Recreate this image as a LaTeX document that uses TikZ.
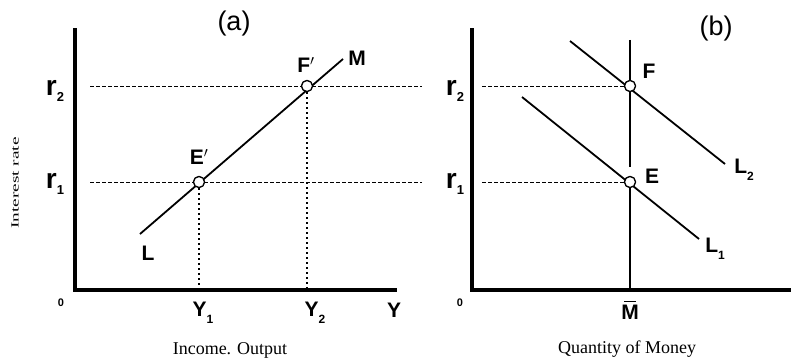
\documentclass[tikz,border=0pt]{standalone}
\usepackage{fontspec}
\setmainfont{Liberation Serif}
\newfontfamily\handfont{Liberation Sans}
\newcommand\sublab[2]{#1\raisebox{-0.6ex}{\fontsize{12}{12}\selectfont #2}}
\newcommand\rlab[1]{{\fontsize{28}{28}\selectfont r}\raisebox{-0.5ex}{\fontsize{13}{13}\selectfont #1}}
\begin{document}
\begin{tikzpicture}[x=1pt,y=-1pt,
  axis/.style={line width=3.6pt,line cap=rect},
  curve/.style={line width=1.8pt},
  guide/.style={line width=1pt,dash pattern=on 3.5pt off 2.5pt},
  vguide/.style={line width=1.2pt,dash pattern=on 2pt off 3pt},
  vline/.style={line width=1.4pt},
  pt/.style={circle,draw,line width=1.2pt,fill=white,inner sep=0pt,minimum size=11pt},
  lab/.style={font=\handfont\bfseries\fontsize{21}{21}\selectfont,inner sep=0pt},
  panel/.style={font=\handfont\fontsize{27}{27}\selectfont,inner sep=0pt},
  captext/.style={font=\fontsize{18}{18}\selectfont,inner sep=0pt},
]
\useasboundingbox (0,0) rectangle (791,361);
% ---------- panel (a)
\coordinate (aTop) at (75,30);
\coordinate (aO) at (75,290);
\coordinate (aEnd) at (395,290);
\draw[axis] (aTop) -- (aO) -- (aEnd);
\coordinate (Lstart) at (140,234);
\coordinate (Mend) at (343,59);
\draw[curve] (Lstart) -- (Mend);
\coordinate (r2a) at (90,86);
\coordinate (r2aEnd) at (422,86);
\coordinate (r1a) at (90,182);
\coordinate (r1aEnd) at (422,182);
\draw[guide] (r2a) -- (r2aEnd);
\draw[guide] (r1a) -- (r1aEnd);
\coordinate (y1a) at (199,290);
\coordinate (y2a) at (307,290);
\node[pt] (Ep) at (199,182) {};
\node[pt] (Fp) at (307,86) {};
\draw[vguide] (Ep) -- (y1a);
\draw[vguide] (Fp) -- (y2a);
\node[pt] at (199,182) {};
\node[pt] at (307,86) {};
\node[lab] (labL) at (148,253) {L};
\node[lab] (labM) at (357,58) {M};
\node[lab] (labFp) at (306,65) {F$'$};
\node[lab] (labEp) at (199,157) {E$'$};
\node[lab] (labr2a) at (55,91) {\rlab{2}};
\node[lab] (labr1a) at (55,184) {\rlab{1}};
\node[lab] (labY1) at (203,313) {\sublab{Y}{1}};
\node[lab] (labY2) at (315,313) {\sublab{Y}{2}};
\node[lab] (labY) at (394,310) {Y};
\node[font=\handfont\fontsize{11}{11}\selectfont\bfseries] (labOa) at (61,303) {0};
\node[panel] (laba) at (234,24) {(a)};
\node[captext] (capa) at (230,350) {Income. Output};
\node[font=\fontsize{11}{11}\selectfont,inner sep=0pt,rotate=90] (yax) at (15,183) {\scalebox{1.75}[1]{Interest rate}};
% ---------- panel (b)
\coordinate (bTop) at (472,30);
\coordinate (bO) at (472,290);
\coordinate (bEnd) at (791,290);
\draw[axis] (bTop) -- (bO) -- (bEnd);
\coordinate (L2s) at (570,41);
\coordinate (L2e) at (725,164);
\coordinate (L1s) at (522,97);
\coordinate (L1e) at (699,239);
\draw[curve] (L2s) -- (L2e);
\draw[curve] (L1s) -- (L1e);
\coordinate (r2b) at (482,86);
\coordinate (r1b) at (482,182);
\node[pt] (F) at (630,86) {};
\node[pt] (E) at (630,182) {};
\coordinate (Mtop) at (630,40);
\coordinate (Mgap) at (630,167);
\coordinate (Mbot) at (630,290);
\draw[vline] (Mtop) -- (F);
\draw[vline] (F) -- (Mgap);
\draw[vline] (E) -- (Mbot);
\draw[guide] (r2b) -- (F);
\draw[guide] (r1b) -- (E);
\node[pt] at (630,86) {};
\node[pt] at (630,182) {};
\node[lab] (labF) at (649,71) {F};
\node[lab] (labE) at (652,176) {E};
\node[lab] (labL2) at (744,170) {\sublab{L}{2}};
\node[lab] (labL1) at (715,249) {\sublab{L}{1}};
\node[lab] (labr2b) at (455,91) {\rlab{2}};
\node[lab] (labr1b) at (455,184) {\rlab{1}};
\node[font=\handfont\fontsize{11}{11}\selectfont\bfseries] (labOb) at (460,303) {0};
\node[lab] (labMbar) at (630,312) {M};
\draw[line width=1.6pt] ([xshift=-6pt,yshift=3pt]labMbar.north) -- ([xshift=6pt,yshift=3pt]labMbar.north);
\node[panel] (labb) at (716,29) {(b)};
\node[captext] (capb) at (627,349) {Quantity of Money};
\end{tikzpicture}
\end{document}
